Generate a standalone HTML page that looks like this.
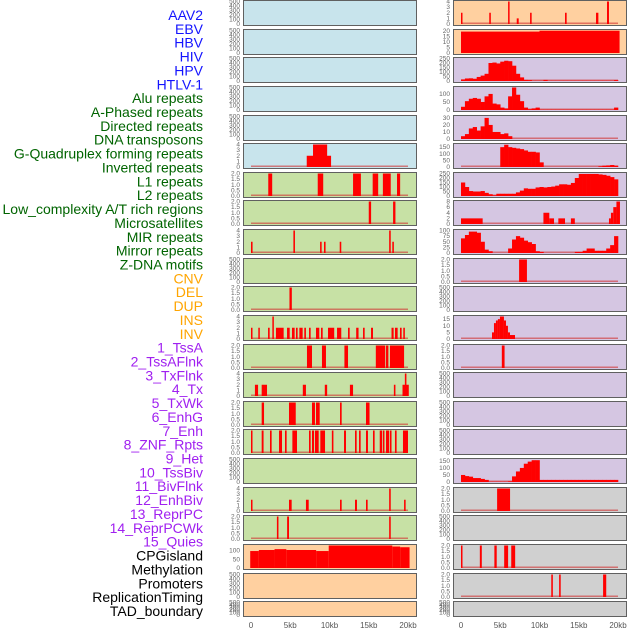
<!DOCTYPE html>
<html><head><meta charset="utf-8">
<style>
html,body{margin:0;padding:0;background:#fff;width:630px;height:630px;overflow:hidden}
svg{display:block}
.lab{font-family:"Liberation Sans",sans-serif;font-size:14px}
.tk{font-family:"Liberation Sans",sans-serif;font-size:6.5px;fill:#666}
.xt{font-family:"Liberation Sans",sans-serif;font-size:8px;fill:#555}
</style></head>
<body>
<svg id="chart" width="630" height="630"></svg>
<script>
// ---- data ----
const trackLabels = ["AAV2","EBV","HBV","HIV","HPV","HTLV-1","Alu repeats","A-Phased repeats","Directed repeats","DNA transposons","G-Quadruplex forming repeats","Inverted repeats","L1 repeats","L2 repeats","Low_complexity A/T rich regions","Microsatellites","MIR repeats","Mirror repeats","Z-DNA motifs","CNV","DEL","DUP","INS","INV","1_TssA","2_TssAFlnk","3_TxFlnk","4_Tx","5_TxWk","6_EnhG","7_Enh","8_ZNF_Rpts","9_Het","10_TssBiv","11_BivFlnk","12_EnhBiv","13_ReprPC","14_ReprPCWk","15_Quies","CPGisland","Methylation","Promoters","ReplicationTiming","TAD_boundary"];
const labelGroups = [6,13,5,15,5];
const groupColors = ["#1414ff","#006400","#ffa500","#a020f0","#000000"];
const xTicks = [0,5,10,15,20];
const xTickLabels = ["0","5kb","10kb","15kb","20kb"];

// segment data [startKb, endKb, value]
const L5 = [[7.1,10.2,2],[7.9,9.7,4]];
const L6 = [[2.2,2.7,2],[8.5,9.2,2],[13.0,14.0,2],[15.5,16.2,2],[16.8,17.8,2],[18.6,19.0,2]];
const L7 = [[15.0,15.3,2],[18.1,18.4,2]];
const L8 = [[0,0.2,2],[5.4,5.6,4],[8.8,9.0,2],[9.3,9.5,2],[11.3,11.5,2],[17.6,17.8,4],[18.0,18.2,2]];
const L10 = [[4.9,5.2,2]];
const L11 = [[0,0.15,2],[0.93,1.1,2],[2.17,2.38,2],[2.72,2.89,4],[3.18,4.16,2],[4.59,4.93,2],[5.22,5.56,2],[5.73,5.94,2],[6.16,6.58,2],[6.79,7.0,2],[7.39,7.6,2],[8.28,8.7,2],[8.92,9.13,2],[9.81,10.6,2],[10.96,11.5,2],[12.36,12.57,2],[13.4,13.7,2],[14.27,14.48,2],[15.29,15.54,2],[17.9,18.17,2],[18.34,18.68,2],[18.98,19.19,2],[19.4,19.6,2]];
const L12 = [[7.13,7.77,2],[9.04,9.55,2],[11.9,12.36,2],[15.9,17.1,2],[17.2,17.5,2],[17.7,19.5,2]];
const L13 = [[0.5,0.9,2],[1.36,2.04,2],[6.6,7.0,2],[9.4,9.7,2],[12.6,13.0,2],[18.2,18.4,2],[19.3,20.1,2],[19.6,19.8,4]];
const L14 = [[1.36,1.66,2],[4.84,5.7,2],[7.77,8.15,2],[8.28,8.75,2],[11.34,11.55,2],[14.65,15.1,2]];
const L15 = [[0,0.15,2],[1.36,1.6,2],[2.42,2.63,2],[3.57,3.95,2],[4.33,4.54,2],[5.27,5.86,2],[7.39,7.6,2],[7.77,8.03,2],[8.15,8.62,2],[8.83,9.43,2],[10.3,10.5,2],[11.85,12.1,2],[13.25,13.46,2],[13.76,13.97,2],[14.65,14.9,2],[15.54,15.75,2],[16.4,16.7,2],[16.8,17.0,2],[17.2,17.6,2],[17.7,17.9,2],[18.34,18.55,2],[19.36,20.0,2]];
const L17 = [[0,0.15,2],[4.84,5.18,2],[7.0,7.35,2],[11.34,11.55,2],[13.25,13.5,2],[14.65,14.86,2],[17.6,17.8,4],[19.5,19.7,2]];
const L18 = [[3.3,3.5,2],[4.6,4.84,2],[17.6,17.8,2]];
const L19 = [[-0.1,1.0,98],[1.0,3.0,104],[3.0,4.5,109],[4.5,8.3,104],[8.3,9.9,98],[9.9,18.0,130],[18.0,19.0,124],[19.0,20.2,120]];
const R0 = [[0,0.15,2],[3.6,3.8,2],[6.0,6.15,4],[7.1,7.35,1],[8.8,9.0,2],[13.25,13.46,2],[17.2,17.5,2],[18.6,18.85,4]];
const R1 = [[0,10,19.5],[10,20.2,20.3]];
const R7 = [[0,2.76,2],[10.5,11.25,4],[11.25,11.85,2],[12.4,13.25,2],[14.0,14.5,2],[18.85,19.1,2],[19.1,19.4,4],[19.4,19.8,6],[19.8,20.25,8]];
const R9 = [[7.4,8.4,2]];
const R11 = [[3.95,4.2,5],[4.2,4.45,12],[4.45,4.7,14],[4.7,4.96,15],[4.96,5.47,17],[5.47,5.73,14],[5.73,5.98,10],[5.98,6.24,5],[6.24,6.88,3]];
const R12 = [[5.2,5.55,2]];
const R17 = [[4.6,6.25,2]];
const R19 = [[0,0.12,2],[2.4,2.65,2],[4.25,4.55,2],[5.5,6.0,2],[6.4,6.9,2]];
const R20 = [[11.5,11.7,2],[12.5,12.7,2],[18.1,18.5,2]];

// binned data, 0.5kb bins over 0..20kb
const R2 = [18,28,30,25,45,60,80,200,205,195,215,225,220,170,80,40,12,10,3,3,3,12,3,3,3,3,3,3,3,3,3,3,3,3,3,3,3,3,3,10];
const R3 = [20,55,70,75,70,50,85,100,40,35,15,10,85,140,95,55,15,5,10,15,2,2,2,2,2,2,2,2,2,2,2,2,2,2,2,2,2,2,2,15];
const R4 = [4,7,15,17,12,18,30,20,10,10,7,8,4,0,0,0,0,0,0,0,0,0,0,0,0,0,0,0,0,0,0,0,0,0,0,0,0,0,0,0];
const R5 = [0,0,0,0,0,0,0,0,0,0,150,168,150,145,140,135,125,115,115,110,35,0,0,0,0,0,0,0,0,0,0,0,0,0,0,5,10,12,15,10];
const R6 = [150,100,55,50,50,55,35,20,8,25,25,25,25,25,40,60,85,80,80,95,100,95,100,105,115,130,130,125,145,200,245,245,245,245,245,240,235,225,210,185];
const R8 = [65,80,95,95,90,50,15,8,0,0,0,0,20,60,75,68,55,48,40,8,5,0,0,0,0,0,0,0,0,5,5,10,20,20,10,10,10,20,35,75];
const R16 = [50,42,38,28,28,22,15,2,2,2,2,2,5,40,75,100,130,145,155,155,15,15,15,15,15,15,15,15,15,15,15,15,15,15,15,15,15,15,15,15];

// tick sets
const tEmpty = [0,100,200,300,400,500];
const t4 = [0,1,2,3,4];
const t2 = [0,0.5,1,1.5,2];

const BLUE="#c8e4ec", GREEN="#c7e1a5", ORANGE="#ffd0a0", LAV="#d5c6e2", GRAY="#d0d0d0";
const panels = [
 [0,0,BLUE,500,tEmpty,null,""],[0,1,BLUE,500,tEmpty,null,""],[0,2,BLUE,500,tEmpty,null,""],
 [0,3,BLUE,500,tEmpty,null,""],[0,4,BLUE,500,tEmpty,null,""],[0,5,BLUE,4,t4,L5,"s"],
 [0,6,GREEN,2,t2,L6,"s"],[0,7,GREEN,2,t2,L7,"s"],[0,8,GREEN,4,t4,L8,"s"],[0,9,GREEN,500,tEmpty,null,""],
 [0,10,GREEN,2,t2,L10,"s"],[0,11,GREEN,4,t4,L11,"s"],[0,12,GREEN,2,t2,L12,"s"],[0,13,GREEN,4,t4,L13,"s"],
 [0,14,GREEN,2,t2,L14,"s"],[0,15,GREEN,2,t2,L15,"s"],[0,16,GREEN,500,tEmpty,null,""],[0,17,GREEN,4,t4,L17,"s"],
 [0,18,GREEN,2,t2,L18,"s"],[0,19,ORANGE,130,[0,50,100],L19,"s"],[0,20,ORANGE,500,tEmpty,null,""],[0,21,ORANGE,500,tEmpty,null,""],
 [1,0,ORANGE,4,t4,R0,"s"],[1,1,ORANGE,20.5,[0,5,10,15,20],R1,"s"],[1,2,LAV,250,[0,50,100,150,200,250],R2,"b"],
 [1,3,LAV,140,[0,50,100],R3,"b"],[1,4,LAV,32,[0,10,20,30],R4,"b"],[1,5,LAV,170,[0,50,100,150],R5,"b"],
 [1,6,LAV,250,[0,50,100,150,200,250],R6,"b"],[1,7,LAV,8,[0,2,4,6,8],R7,"s"],[1,8,LAV,100,[0,25,50,75,100],R8,"b"],
 [1,9,LAV,2,t2,R9,"s"],[1,10,LAV,500,tEmpty,null,""],[1,11,LAV,17,[0,5,10,15],R11,"s"],[1,12,LAV,2,t2,R12,"s"],
 [1,13,LAV,500,tEmpty,null,""],[1,14,LAV,500,tEmpty,null,""],[1,15,LAV,500,tEmpty,null,""],[1,16,LAV,160,[0,50,100,150],R16,"b"],
 [1,17,GRAY,2,t2,R17,"s"],[1,18,GRAY,500,tEmpty,null,""],[1,19,GRAY,2,t2,R19,"s"],[1,20,GRAY,2,t2,R20,"s"],[1,21,GRAY,500,tEmpty,null,""]
];

// ---- drawing ----
const NS="http://www.w3.org/2000/svg";
const svg=document.getElementById('chart');
function mk(tag,attrs,parent){const e=document.createElementNS(NS,tag);for(const k in attrs)e.setAttribute(k,attrs[k]);(parent||svg).appendChild(e);return e;}
const colX=[243,453], panelW=173, rowStep=28.63, panelH=25;
function xScale(col,kb){return colX[col]+8+kb*7.85;}

let li=0;
labelGroups.forEach((n,g)=>{for(let k=0;k<n;k++){
  const t=mk('text',{x:203,y:20+li*13.86,'text-anchor':'end',class:'lab',fill:groupColors[g]});
  t.textContent=trackLabels[li];
  
  
  li++;}});

panels.forEach(p=>{
  const [col,row,bg,ymax,ticks,data,kind]=p;
  const top=Math.round(row*rowStep)+0.5, h=(row===21?15:panelH);
  const g=mk('g',{});
  
  
  mk('rect',{x:colX[col]+0.5,y:top,width:panelW,height:h,fill:bg,stroke:'none'},g);
  const y0=top+h-1.5, y1=top+1;
  const yS=v=>y0-(v/ymax)*(y0-y1);
  if(data){
    mk('rect',{x:xScale(col,0),y:y0-1.5,width:xScale(col,20)-xScale(col,0),height:1.5,fill:'#d03030',opacity:0.6},g);
    if(kind==="s"){
      data.forEach(s=>{const r=mk('rect',{x:xScale(col,s[0]),y:yS(s[2]),width:Math.max(1.5,xScale(col,s[1])-xScale(col,s[0])),height:y0-yS(s[2]),fill:'#ff0000'},g);
        
        });
    } else {
      data.forEach((v,i)=>{if(v<=0)return;const r=mk('rect',{x:xScale(col,i*0.5),y:yS(v),width:xScale(col,0.5)-xScale(col,0)+0.3,height:y0-yS(v),fill:'#ff0000'},g);
        
        });
    }
  }
  mk('rect',{x:colX[col]+0.5,y:top,width:panelW,height:h,fill:'none',stroke:'#606060','stroke-width':1},g);
  const tmax=ticks[ticks.length-1];
  ticks.forEach(t=>{
    const ty = data? yS(t) : y0-(t/tmax)*(y0-y1);
    const lbl=mk('text',{x:colX[col]-3,y:ty+2,'text-anchor':'end',class:'tk'},g);
    lbl.textContent = (ticks===t2)? t.toFixed(1) : String(t);
  });
});

[0,1].forEach(col=>{xTicks.forEach((v,i)=>{
  const t=mk('text',{x:xScale(col,v),y:628,'text-anchor':'middle',class:'xt'});
  t.textContent=xTickLabels[i];
  
  
});});
</script>
</body></html>
